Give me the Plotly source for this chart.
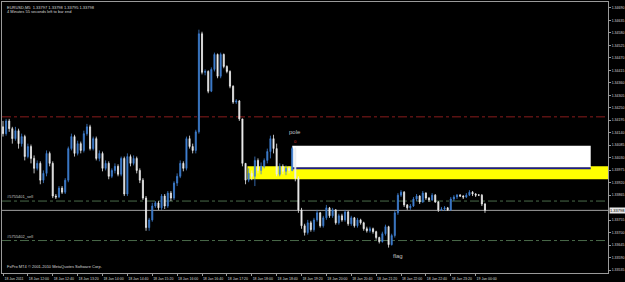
import pandas as pd
import plotly.graph_objects as go

# ---- data (EURUSD M5, 18 Jan 2011 11:20 onward) ----
first_open = 1.34166
closes = [1.34136,1.34192,1.34158,1.34114,1.34149,1.34092,1.34123,1.34035,1.34079,1.34027,
          1.33983,1.34005,1.33931,1.33961,1.34049,1.34005,1.33861,1.33857,1.33896,1.33878,
          1.33931,1.34070,1.34123,1.34049,1.34092,1.34062,1.34136,1.34166,1.34070,1.34114,
          1.34027,1.34049,1.33983,1.34005,1.33948,1.33974,1.33992,1.33957,1.34027,1.33870,
          1.34035,1.34005,1.34027,1.33974,1.33931,1.33852,1.33722,1.33756,1.33817,1.33831,
          1.33809,1.33861,1.33817,1.33874,1.33852,1.33918,1.33948,1.34005,1.33983,1.34114,
          1.34079,1.34062,1.34144,1.34576,1.34406,1.34410,1.34323,1.34419,1.34485,1.34389,
          1.34485,1.34432,1.34410,1.34345,1.34275,1.34280,1.34201,1.34005,1.33931,1.33961,
          1.33948,1.34018,1.33974,1.33992,1.34018,1.34057,1.34114,1.34070,1.33957,1.33992,
          1.33970,1.33983,1.33974,1.34070,1.33940,1.33800,1.33730,1.33700,1.33743,1.33713,
          1.33756,1.33787,1.33730,1.33765,1.33809,1.33774,1.33800,1.33743,1.33774,1.33756,
          1.33791,1.33739,1.33765,1.33730,1.33756,1.33743,1.33717,1.33708,1.33717,1.33704,
          1.33678,1.33660,1.33695,1.33726,1.33647,1.33687,1.33787,1.33865,1.33878,1.33822,
          1.33809,1.33817,1.33848,1.33861,1.33835,1.33874,1.33852,1.33844,1.33865,1.33835,
          1.33800,1.33804,1.33809,1.33800,1.33848,1.33857,1.33865,1.33861,1.33857,1.33865,
          1.33878,1.33870,1.33865,1.33865,1.33826,1.33798]
highs = [1.34192,1.34201,1.34201,1.34166,1.34166,1.34158,1.34136,1.34131,1.34092,1.34088,
         1.34040,1.34018,1.34014,1.33974,1.34062,1.34057,1.34014,1.33870,1.33905,1.33905,
         1.33940,1.34079,1.34136,1.34131,1.34105,1.34101,1.34149,1.34179,1.34175,1.34123,
         1.34123,1.34062,1.34057,1.34018,1.34014,1.33983,1.34005,1.34001,1.34035,1.34035,
         1.34049,1.34044,1.34040,1.34035,1.33983,1.33940,1.33861,1.33765,1.33831,1.33839,
         1.33839,1.33870,1.33870,1.33883,1.33883,1.33926,1.33961,1.34018,1.34014,1.34123,
         1.34127,1.34092,1.34153,1.34594,1.34585,1.34419,1.34415,1.34428,1.34493,1.34489,
         1.34493,1.34489,1.34437,1.34415,1.34349,1.34288,1.34284,1.34201,1.34005,1.33983,
         1.33974,1.34035,1.34027,1.34009,1.34027,1.34070,1.34127,1.34131,1.34092,1.34005,
         1.34001,1.33996,1.33992,1.34079,1.34075,1.33948,1.33809,1.33739,1.33756,1.33752,
         1.33765,1.33800,1.33791,1.33774,1.33822,1.33813,1.33809,1.33804,1.33783,1.33783,
         1.33800,1.33796,1.33774,1.33769,1.33765,1.33761,1.33748,1.33726,1.33726,1.33722,
         1.33708,1.33682,1.33704,1.33735,1.33730,1.33695,1.33796,1.33874,1.33887,1.33883,
         1.33826,1.33826,1.33857,1.33870,1.33865,1.33883,1.33878,1.33857,1.33874,1.33870,
         1.33839,1.33813,1.33817,1.33813,1.33857,1.33865,1.33870,1.33870,1.33865,1.33874,
         1.33887,1.33883,1.33874,1.33870,1.33870,1.33831]
lows = [1.34123,1.34127,1.34144,1.34092,1.34105,1.34070,1.34079,1.34018,1.34027,1.34005,
        1.33961,1.33974,1.33913,1.33918,1.33948,1.33992,1.33852,1.33848,1.33852,1.33870,
        1.33870,1.33922,1.34062,1.34035,1.34040,1.34049,1.34053,1.34127,1.34062,1.34062,
        1.34018,1.34014,1.33970,1.33974,1.33935,1.33940,1.33961,1.33948,1.33948,1.33861,
        1.33861,1.33992,1.33996,1.33961,1.33918,1.33844,1.33708,1.33708,1.33748,1.33809,
        1.33800,1.33800,1.33804,1.33809,1.33839,1.33844,1.33905,1.33940,1.33970,1.33974,
        1.34070,1.34049,1.34049,1.34136,1.34397,1.34393,1.34314,1.34319,1.34410,1.34380,
        1.34380,1.34424,1.34402,1.34336,1.34267,1.34267,1.34192,1.33992,1.33913,1.33922,
        1.33931,1.33905,1.33961,1.33957,1.33983,1.34005,1.34027,1.34049,1.33948,1.33948,
        1.33957,1.33953,1.33961,1.33970,1.33926,1.33787,1.33717,1.33687,1.33691,1.33704,
        1.33704,1.33748,1.33722,1.33722,1.33756,1.33765,1.33765,1.33735,1.33735,1.33748,
        1.33748,1.33730,1.33730,1.33722,1.33722,1.33735,1.33708,1.33700,1.33700,1.33695,
        1.33669,1.33652,1.33656,1.33687,1.33634,1.33643,1.33678,1.33778,1.33857,1.33813,
        1.33800,1.33800,1.33813,1.33839,1.33826,1.33831,1.33844,1.33835,1.33839,1.33831,
        1.33791,1.33796,1.33796,1.33796,1.33796,1.33839,1.33848,1.33857,1.33848,1.33852,
        1.33861,1.33861,1.33857,1.33861,1.33817,1.33787]
opens = [first_open] + closes[:-1]
times = pd.date_range("2011-01-18 11:20", periods=len(closes), freq="5min")

# tick labels on the price scale (1.33810 is hidden under the bid label)
y_ticks = [1.34690,1.34635,1.34580,1.34525,1.34470,1.34415,1.34360,1.34305,1.34250,1.34195,
           1.34140,1.34085,1.34030,1.33975,1.33920,1.33865,1.33755,1.33700,1.33645,
           1.33590,1.33535]
x_ticks = pd.date_range("2011-01-18 11:20", periods=20, freq="40min")
x_tick_text = ["18 Jan 2011"] + [t.strftime("%d %b %H:%M").lstrip("0") for t in x_ticks[1:]]

bid = 1.33798
red_level = 1.34210
sell_levels = [1.33839, 1.33665]
sell_names = ["#5755401_sell", "#5755402_sell"]
white_box = ("2011-01-18 19:05", "2011-01-19 03:05", 1.33987, 1.34083)
yellow_box = ("2011-01-18 17:53", "2011-01-19 03:40", 1.33935, 1.33992)
zone_line = 1.33983

FONT = "Liberation Sans"
GRAY = "#9a9a9a"

fig = go.Figure()
fig.add_trace(go.Candlestick(
    x=times, open=opens, high=highs, low=lows, close=closes,
    increasing=dict(line=dict(color="#3f7fd0", width=0.8), fillcolor="#3f7fd0"),
    decreasing=dict(line=dict(color="#ececec", width=0.8), fillcolor="#ececec"),
    whiskerwidth=0, showlegend=False, hoverinfo="skip"))

shapes = []
shapes.append(dict(type="rect", xref="x", yref="y", x0=yellow_box[0], x1=yellow_box[1],
                   y0=yellow_box[2], y1=yellow_box[3], fillcolor="#ffff00",
                   line=dict(width=0), layer="below"))
shapes.append(dict(type="rect", xref="x", yref="y", x0=white_box[0], x1=white_box[1],
                   y0=white_box[2], y1=white_box[3], fillcolor="#ffffff",
                   line=dict(width=0), layer="below"))
shapes.append(dict(type="line", xref="x", yref="y", x0=white_box[0], x1=white_box[1],
                   y0=zone_line, y1=zone_line, line=dict(color="#1c1c8c", width=2), layer="below"))
shapes.append(dict(type="line", xref="paper", yref="y", x0=0, x1=1, y0=red_level, y1=red_level,
                   line=dict(color="#8a1c1c", width=1, dash="dashdot"), layer="below"))
for lv in sell_levels:
    shapes.append(dict(type="line", xref="paper", yref="y", x0=0, x1=1, y0=lv, y1=lv,
                       line=dict(color="#4a6a4a", width=1, dash="dashdot"), layer="below"))
shapes.append(dict(type="line", xref="paper", yref="y", x0=0, x1=1, y0=bid, y1=bid,
                   line=dict(color="#a0a0a0", width=1), layer="below"))

ann = []
ann.append(dict(text="EURUSD,M5  1.33797 1.33798 1.33795 1.33798", xref="paper", yref="paper",
                x=0, y=1, xanchor="left", yanchor="top", xshift=3, yshift=-1, showarrow=False,
                font=dict(family=FONT, size=4, color="#d8d8d8")))
ann.append(dict(text="4 Minutes 55 seconds left to bar end", xref="paper", yref="paper",
                x=0, y=1, xanchor="left", yanchor="top", xshift=3, yshift=-5, showarrow=False,
                font=dict(family=FONT, size=4, color="#d8d8d8")))
ann.append(dict(text="FxPro MT4 © 2001-2010 MetaQuotes Software Corp.", xref="paper", yref="paper",
                x=0, y=0, xanchor="left", yanchor="bottom", xshift=3, yshift=2, showarrow=False,
                font=dict(family=FONT, size=4, color="#d8d8d8")))
for lv, nm in zip(sell_levels, sell_names):
    ann.append(dict(text=nm, xref="paper", yref="y", x=0, y=lv, xanchor="left", yanchor="bottom",
                    xshift=3, showarrow=False, font=dict(family=FONT, size=4, color="#c8c8c8")))
ann.append(dict(text="pole", x=times[94], y=1.34144, xref="x", yref="y", showarrow=False,
                font=dict(family=FONT, size=6, color="#c0c0c0")))
ann.append(dict(text="0", x=times[94], y=1.34101, xref="x", yref="y", showarrow=False,
                font=dict(family=FONT, size=4, color="#e03030")))
ann.append(dict(text="flag", x=times[127], y=1.33599, xref="x", yref="y", showarrow=False,
                font=dict(family=FONT, size=6, color="#c0c0c0")))
ann.append(dict(text=f"{bid:.5f}", xref="paper", yref="y", x=1, y=bid, xanchor="left",
                xshift=1, showarrow=False, bgcolor="#e8e8e8", borderpad=0,
                font=dict(family=FONT, size=4, color="#000000")))

fig.update_layout(
    width=625, height=282, margin=dict(l=1, r=15, t=2, b=6),
    paper_bgcolor="#000000", plot_bgcolor="#000000",
    shapes=shapes, annotations=ann, boxgap=0.5,
    xaxis=dict(type="date", range=["2011-01-18 11:18:24", "2011-01-19 03:32:48"],
               rangeslider=dict(visible=False), showgrid=False, zeroline=False,
               showline=True, mirror=True, linecolor=GRAY, linewidth=1,
               tickvals=list(x_ticks), ticktext=x_tick_text, ticks="outside", ticklen=2,
               tickcolor=GRAY, ticklabelshift=11, ticklabelstandoff=0,
               tickfont=dict(family=FONT, size=3.5, color="#d8d8d8")),
    yaxis=dict(range=[1.33522, 1.34716], side="right", showgrid=False, zeroline=False,
               showline=True, mirror=True, linecolor=GRAY, linewidth=1,
               tickvals=y_ticks, tickformat=".5f", ticks="outside", ticklen=2,
               tickcolor=GRAY, ticklabelstandoff=0,
               tickfont=dict(family=FONT, size=3.5, color="#d8d8d8")),
)

fig.write_html("out.html")
